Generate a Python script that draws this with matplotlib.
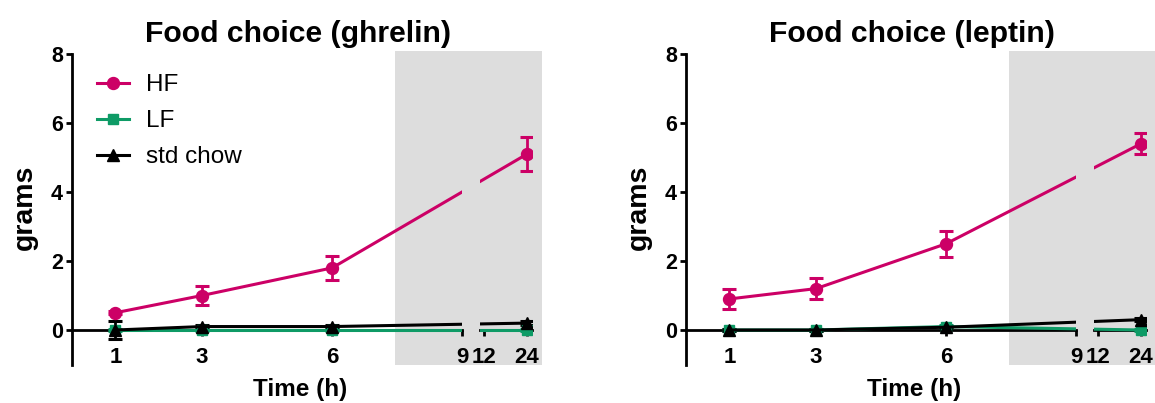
import numpy as np
import matplotlib
matplotlib.use('Agg')
import matplotlib.pyplot as plt

# time points (h) and mean intake (grams) with SEM
hours = [1, 3, 6, 24]

ghrelin_hf = [0.5, 1.0, 1.8, 5.1]
ghrelin_hf_sem = [0.05, 0.27, 0.35, 0.5]
ghrelin_lf = [0.0, 0.0, 0.0, 0.0]
ghrelin_lf_sem = [0.03, 0.03, 0.03, 0.03]
ghrelin_chow = [0.0, 0.1, 0.1, 0.2]
ghrelin_chow_sem = [0.25, 0.05, 0.05, 0.05]

leptin_hf = [0.9, 1.2, 2.5, 5.4]
leptin_hf_sem = [0.3, 0.3, 0.37, 0.3]
leptin_lf = [0.0, 0.0, 0.1, 0.0]
leptin_lf_sem = [0.03, 0.03, 0.05, 0.03]
leptin_chow = [0.0, 0.0, 0.08, 0.3]
leptin_chow_sem = [0.03, 0.03, 0.05, 0.05]

series_labels = ['HF', 'LF', 'std chow']
ticks_first = [1, 3, 6, 9]
ticks_second = [12, 24]
y_ticks = [0, 2, 4, 6, 8]

HF_COLOR = '#CC0066'
LF_COLOR = '#0E9B66'
CHOW_COLOR = '#000000'
SHADE = '#DDDDDD'

plt.rcParams['font.family'] = ['Liberation Sans', 'DejaVu Sans']
plt.rcParams['font.weight'] = 'bold'

W, H = 1155, 403
PX = 43.35              # pixels per hour in the first segment
Y_BOT, Y_TOP = 364.5, 54
K = 0.083               # compression of the second segment

# piecewise scale: linear up to 9 h, break, then compressed
_xp = [-100, 9, 12, 200]
_up = [-100, 9, 9.5, 9.5 + 188 * K]


def fwd(x):
    return np.interp(x, _xp, _up)


def inv(u):
    return np.interp(u, _up, _xp)


def draw_panel(fig, x0, title, hf, hf_sem, lf, lf_sem, chow, chow_sem, legend=False):
    bottom = 1 - Y_BOT / H
    height = (Y_BOT - Y_TOP) / H
    ax1 = fig.add_axes([x0 / W, bottom, 9 * PX / W, height])
    u2a, u2b = 9.41, 10.62
    ax2 = fig.add_axes([(x0 + u2a * PX) / W, bottom, (u2b - u2a) * PX / W, height])
    ax2.set_facecolor('none')

    ax1.axvspan(7.45, inv(10.85), ymin=0, ymax=(8.1 + 1) / 9, color=SHADE,
                lw=0, clip_on=False, zorder=0)

    handles = []
    for ax in (ax1, ax2):
        ax.set_xscale('function', functions=(fwd, inv))
        hs = []
        for vals, sem, col, mk, ms in [(hf, hf_sem, HF_COLOR, 'o', 8.6),
                                       (lf, lf_sem, LF_COLOR, 's', 7.2),
                                       (chow, chow_sem, CHOW_COLOR, '^', 8.5)]:
            c = ax.errorbar(hours, vals, yerr=sem, color=col, marker=mk, ms=ms,
                            mec=col, mfc=col, lw=2.2, elinewidth=2, capsize=5,
                            capthick=2.2, zorder=3)
            hs.append(c.lines[0])
        handles = hs
        ax.set_ylim(-1, 8)
        ax.spines['top'].set_visible(False)
        ax.spines['right'].set_visible(False)
        ax.spines['bottom'].set_position(('data', 0))
        ax.spines['bottom'].set_linewidth(2)
        ax.spines['left'].set_linewidth(2)
        ax.tick_params(axis='x', direction='out', length=4.5, width=2,
                       labelsize=16, pad=7.5)
        ax.tick_params(axis='y', direction='out', length=4.5, width=2,
                       labelsize=15.5, pad=2)

    ax1.set_xlim(0, 9)
    ax1.set_xticks(ticks_first)
    ax1.set_xticklabels([str(t) for t in ticks_first])
    ax1.set_yticks(y_ticks)

    ax2.set_xlim(inv(u2a), inv(u2b))
    ax2.set_xticks(ticks_second)
    ax2.set_xticklabels([str(t) for t in ticks_second])
    ax2.spines['left'].set_visible(False)
    ax2.set_yticks([])
    ax2.tick_params(axis='y', left=False)
    ax2.minorticks_off()
    ax1.minorticks_off()

    fig.text((x0 + 226) / W, 1 - 42 / H, title, ha='center', va='baseline',
             fontsize=21.7, fontweight='bold')
    fig.text((x0 + 228) / W, 1 - 396 / H, 'Time (h)', ha='center', va='baseline',
             fontsize=17.5, fontweight='bold')
    fig.text((x0 - 47) / W, 1 - 207 / H, 'grams', ha='center', va='center',
             rotation=90, fontsize=20.5, fontweight='bold')

    if legend:
        fig.legend(handles, series_labels, loc='upper left',
                   bbox_to_anchor=(97 / W, 1 - 74 / H), frameon=False,
                   borderpad=0, borderaxespad=0, handlelength=1.3,
                   handletextpad=0.72, labelspacing=0.58,
                   prop={'size': 17.5, 'weight': 'normal'})


fig = plt.figure(figsize=(W / 100, H / 100), dpi=100)
draw_panel(fig, 72, 'Food choice (ghrelin)', ghrelin_hf, ghrelin_hf_sem,
           ghrelin_lf, ghrelin_lf_sem, ghrelin_chow, ghrelin_chow_sem, legend=True)
draw_panel(fig, 686, 'Food choice (leptin)', leptin_hf, leptin_hf_sem,
           leptin_lf, leptin_lf_sem, leptin_chow, leptin_chow_sem)
fig.savefig('out.png', dpi=100)
